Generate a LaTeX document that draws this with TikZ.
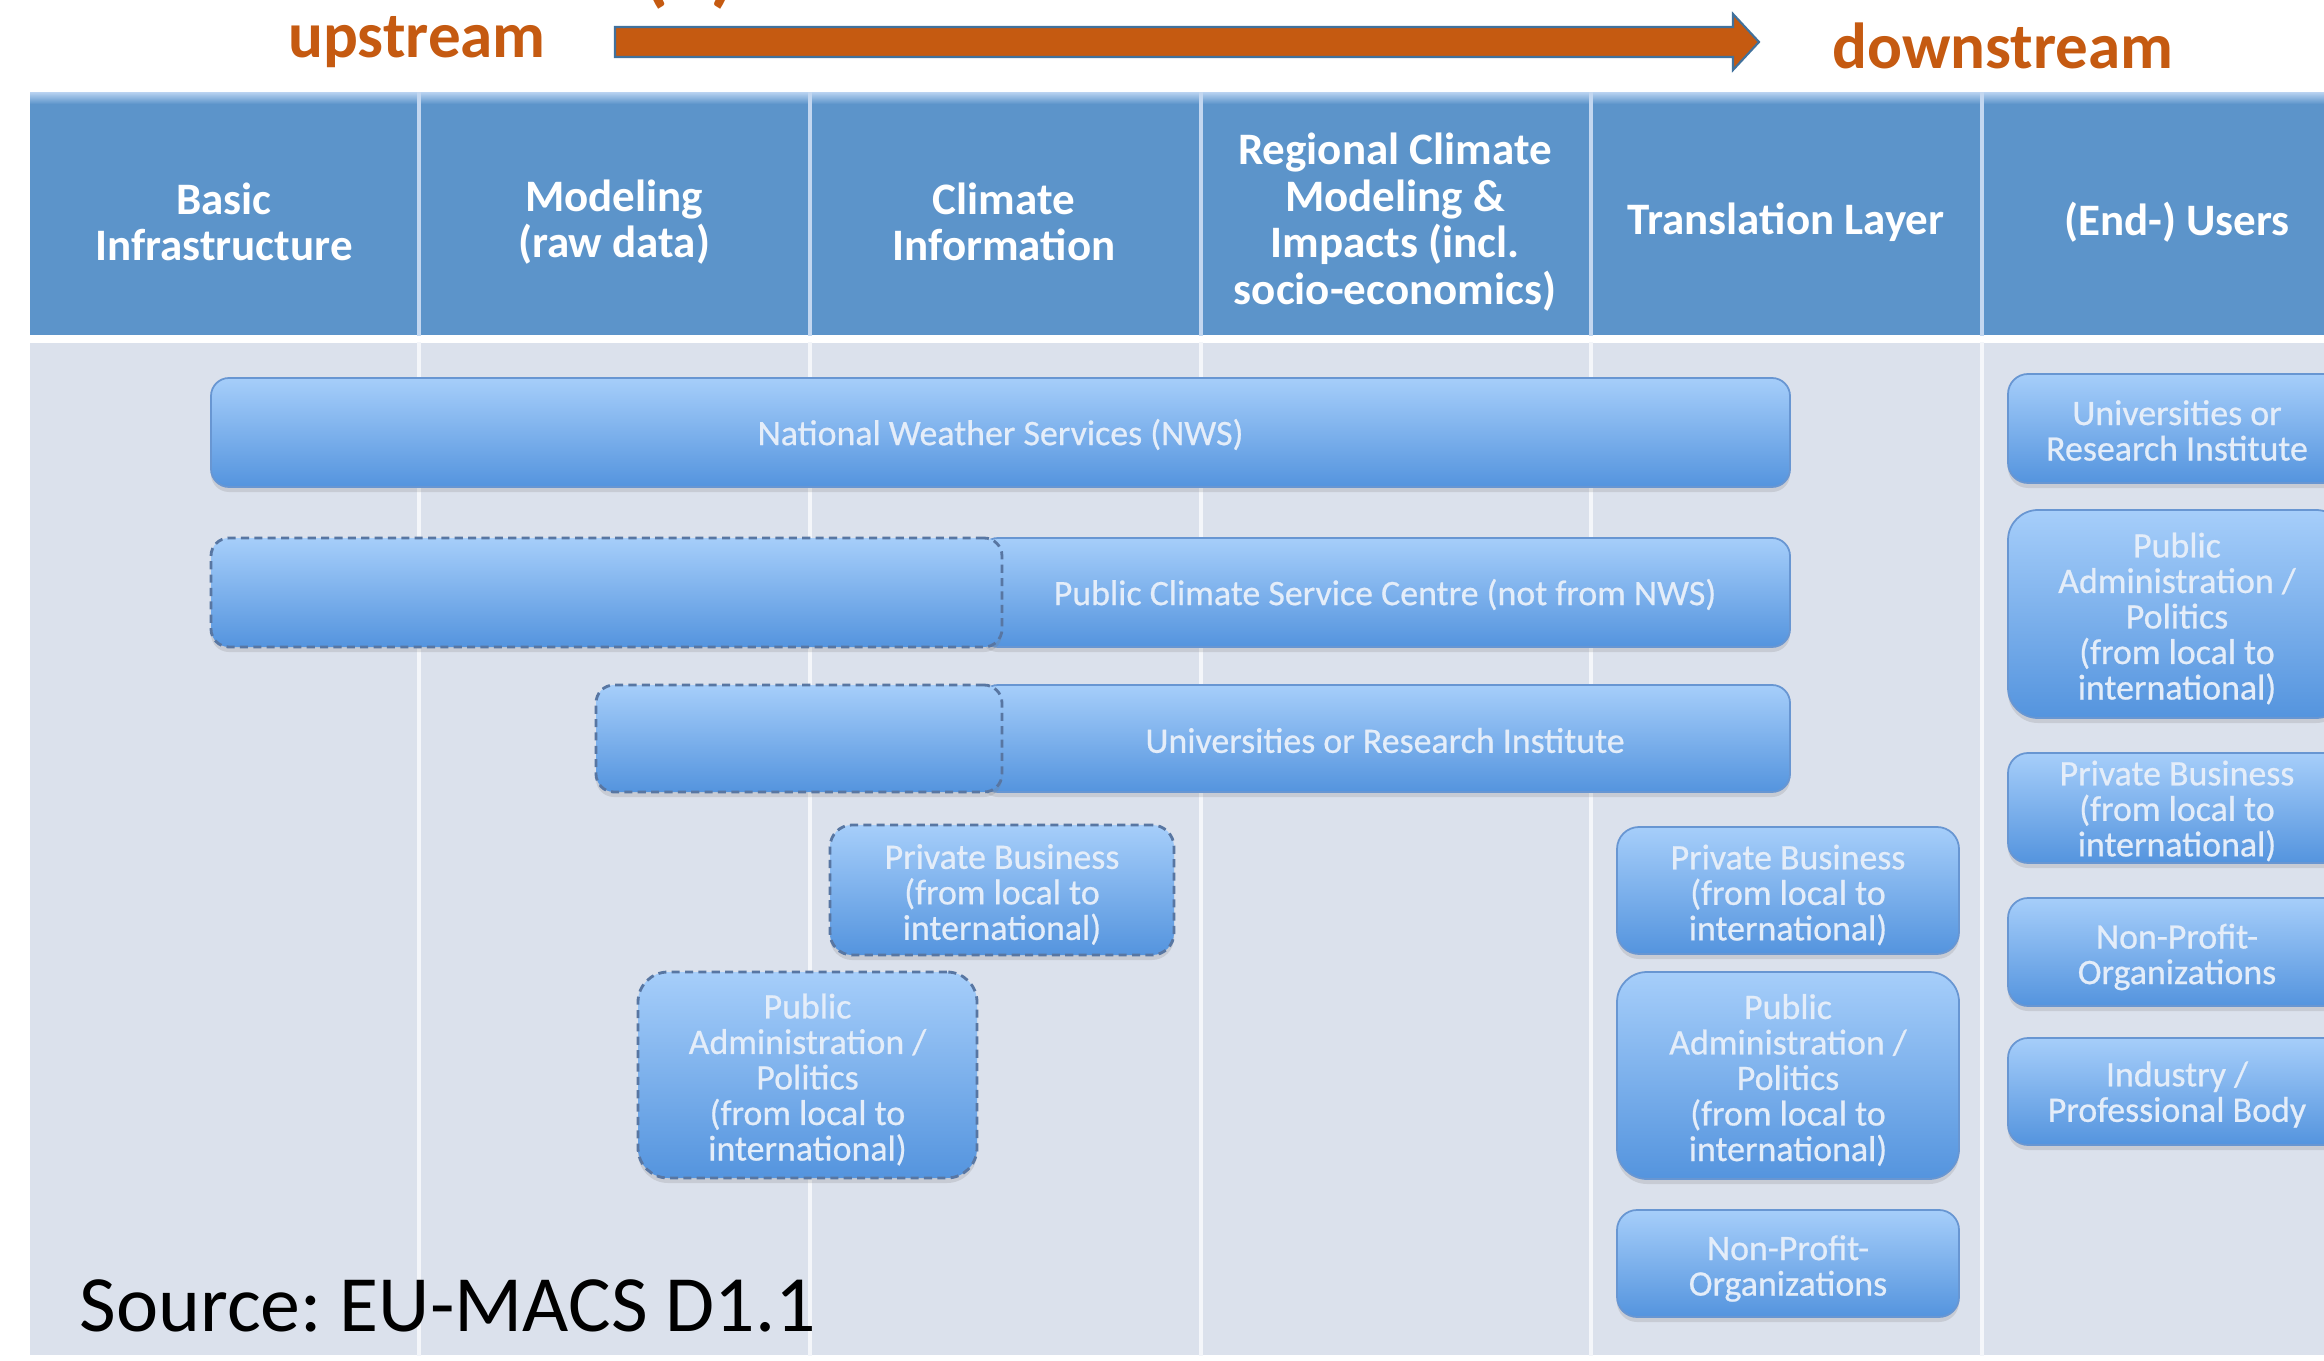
\documentclass[tikz,border=0pt]{standalone}
\usepackage{fontspec}
\setmainfont{Carlito}
\newfontfamily\boxfont[FakeBold=0.6]{Carlito}
\usetikzlibrary{fit,shadows}
\definecolor{hdr}{RGB}{92,148,202}
\definecolor{hdrlight}{RGB}{178,206,238}
\definecolor{hsepc}{RGB}{195,215,240}
\definecolor{bodyc}{RGB}{219,225,236}
\definecolor{bsepc}{RGB}{244,246,250}
\definecolor{boxtop}{RGB}{166,206,250}
\definecolor{boxbot}{RGB}{84,148,222}
\definecolor{boxline}{RGB}{104,150,210}
\definecolor{dashline}{RGB}{88,118,162}
\definecolor{boxtext}{RGB}{228,237,249}
\definecolor{orng}{RGB}{197,90,17}
\definecolor{arrline}{RGB}{65,113,156}
\begin{document}
\frenchspacing
\begin{tikzpicture}[x=0.01cm,y=-0.01cm,
  hcell/.style={fill=hdr, draw=none, inner sep=0pt},
  bcell/.style={fill=bodyc, draw=none, inner sep=0pt},
  hsep/.style={draw=hsepc, line width=1.1pt},
  bsep/.style={draw=bsepc, line width=1.1pt},
  htext/.style={text=white, font=\bfseries\fontsize{12.8pt}{13.2pt}\selectfont, align=center, inner sep=0pt},
  ortext/.style={text=orng, font=\bfseries\fontsize{18.5pt}{18.5pt}\selectfont, inner sep=0pt},
  bx/.style={inner sep=0pt,
    top color=boxtop, bottom color=boxbot, draw=boxline, line width=0.5pt,
    drop shadow={shadow xshift=0pt, shadow yshift=-0.05cm, opacity=0.22}},
  btext/.style={inner sep=0pt, align=center, text=boxtext,
    font=\boxfont\fontsize{10.2pt}{10.1pt}\selectfont},
  solidbox/.style={bx},
  dashbox/.style={bx, draw=dashline, dash pattern=on 2.3pt off 1.5pt, line width=0.8pt}
]
\useasboundingbox (0,0) rectangle (2324,1361);
\clip (0,0) rectangle (2324,1361);

% top labels and arrow
\node[ortext, anchor=base] (lbl) at (690,-3) {\fontsize{24pt}{24pt}\selectfont (a)};
\node[ortext, anchor=base] (up) at (417,58) {upstream};
\node[ortext, anchor=base] (down) at (2003,69) {downstream};
\filldraw[fill=orng, draw=arrline, line width=0.6pt]
  (615,27) -- (1733,27) -- (1733,14) -- (1759,42) -- (1733,70) -- (1733,57) -- (615,57) -- cycle;

% header cells
\node[hcell, fit={(30,93) (418,335)}] (h1) {};
\node[hcell, fit={(418,93) (809,335)}] (h2) {};
\node[hcell, fit={(809,93) (1200,335)}] (h3) {};
\node[hcell, fit={(1200,93) (1590,335)}] (h4) {};
\node[hcell, fit={(1590,93) (1981,335)}] (h5) {};
\node[hcell, fit={(1981,93) (2372,335)}] (h6) {};
\shade[top color=hdrlight, bottom color=hdr] (30,93) rectangle (2372,104);

% body cells
\node[bcell, fit={(30,343) (418,1355)}] (b1) {};
\node[bcell, fit={(418,343) (809,1355)}] (b2) {};
\node[bcell, fit={(809,343) (1200,1355)}] (b3) {};
\node[bcell, fit={(1200,343) (1590,1355)}] (b4) {};
\node[bcell, fit={(1590,343) (1981,1355)}] (b5) {};
\node[bcell, fit={(1981,343) (2372,1355)}] (b6) {};

% separators
\foreach \c in {h1,h2,h3,h4,h5}{\draw[hsep] (\c.north east) -- (\c.south east);}
\foreach \c in {b1,b2,b3,b4,b5}{\draw[bsep] (\c.north east) -- (\c.south east);}

% header texts
\node[htext] (t1) at (224,222) {Basic\\Infrastructure};
\node[htext] (t2) at (614,222) {Modeling\\(raw data)};
\node[htext] (t3) at (1004,222) {Climate\\Information};
\node[htext] (t4) at (1395,222) {Regional Climate\\Modeling \&\\Impacts (incl.\\socio-economics)};
\node[htext] (t5) at (1786,222) {Translation Layer};
\node[htext] (t6) at (2177,222) {(End-) Users};

% bars
\node[solidbox, rounded corners=0.18cm, fit={(211,378) (1790,487)}] (nws) {};
\node[solidbox, rounded corners=0.18cm, fit={(980,538) (1790,647)}] (pcsc) {};
\node[dashbox, rounded corners=0.18cm, fit={(211,538) (1002,647)}] (pcscx) {};
\node[solidbox, rounded corners=0.18cm, fit={(980,685) (1790,792)}] (uni) {};
\node[dashbox, rounded corners=0.18cm, fit={(596,685) (1002,792)}] (unix) {};

% dashed boxes
\node[dashbox, rounded corners=0.22cm, fit={(830,825) (1174,955)}] (pb1) {};
\node[dashbox, rounded corners=0.3cm, fit={(638,972) (977,1178)}] (pa1) {};

% translation layer
\node[solidbox, rounded corners=0.22cm, fit={(1617,827) (1959,954)}] (pb2) {};
\node[solidbox, rounded corners=0.3cm, fit={(1617,972) (1959,1179)}] (pa2) {};
\node[solidbox, rounded corners=0.2cm, fit={(1617,1210) (1959,1317)}] (np2) {};

% end users
\node[solidbox, rounded corners=0.2cm, fit={(2008,374) (2346,483)}] (uni3) {};
\node[solidbox, rounded corners=0.3cm, fit={(2008,510) (2346,718)}] (pa3) {};
\node[solidbox, rounded corners=0.2cm, fit={(2008,753) (2346,863)}] (pb3) {};
\node[solidbox, rounded corners=0.2cm, fit={(2008,898) (2346,1006)}] (np3) {};
\node[solidbox, rounded corners=0.2cm, fit={(2008,1038) (2346,1145)}] (ind3) {};

% box texts
\node[btext] (nwsT) at ([yshift=-0.02cm]nws.center) {National Weather Services (NWS)};
\node[btext] (pcscT) at ([yshift=-0.02cm]pcsc.center) {Public Climate Service Centre (not from NWS)};
\node[btext] (uniT) at ([yshift=-0.02cm]uni.center) {Universities or Research Institute};
\node[btext] (pb1T) at ([yshift=-0.045cm]pb1.center) {Private Business\\(from local to\\international)};
\node[btext] (pa1T) at ([yshift=-0.045cm]pa1.center) {Public\\Administration /\\Politics\\(from local to\\international)};
\node[btext] (pb2T) at ([yshift=-0.045cm]pb2.center) {Private Business\\(from local to\\international)};
\node[btext] (pa2T) at ([yshift=-0.045cm]pa2.center) {Public\\Administration /\\Politics\\(from local to\\international)};
\node[btext] (np2T) at ([yshift=-0.05cm]np2.center) {Non-Profit-\\Organizations};
\node[btext] (uni3T) at ([yshift=-0.02cm]uni3.center) {Universities or\\Research Institute};
\node[btext] (pa3T) at ([yshift=-0.045cm]pa3.center) {Public\\Administration /\\Politics\\(from local to\\international)};
\node[btext] (pb3T) at ([yshift=-0.03cm]pb3.center) {Private Business\\(from local to\\international)};
\node[btext] (np3T) at ([yshift=-0.05cm]np3.center) {Non-Profit-\\Organizations};
\node[btext] (ind3T) at ([yshift=-0.03cm]ind3.center) {Industry /\\Professional Body};

% source
\node[anchor=base west, inner sep=0pt, font=\fontsize{22.7pt}{22.7pt}\selectfont] (src) at (79,1331) {Source: EU-MACS D1.1};
\end{tikzpicture}
\end{document}
